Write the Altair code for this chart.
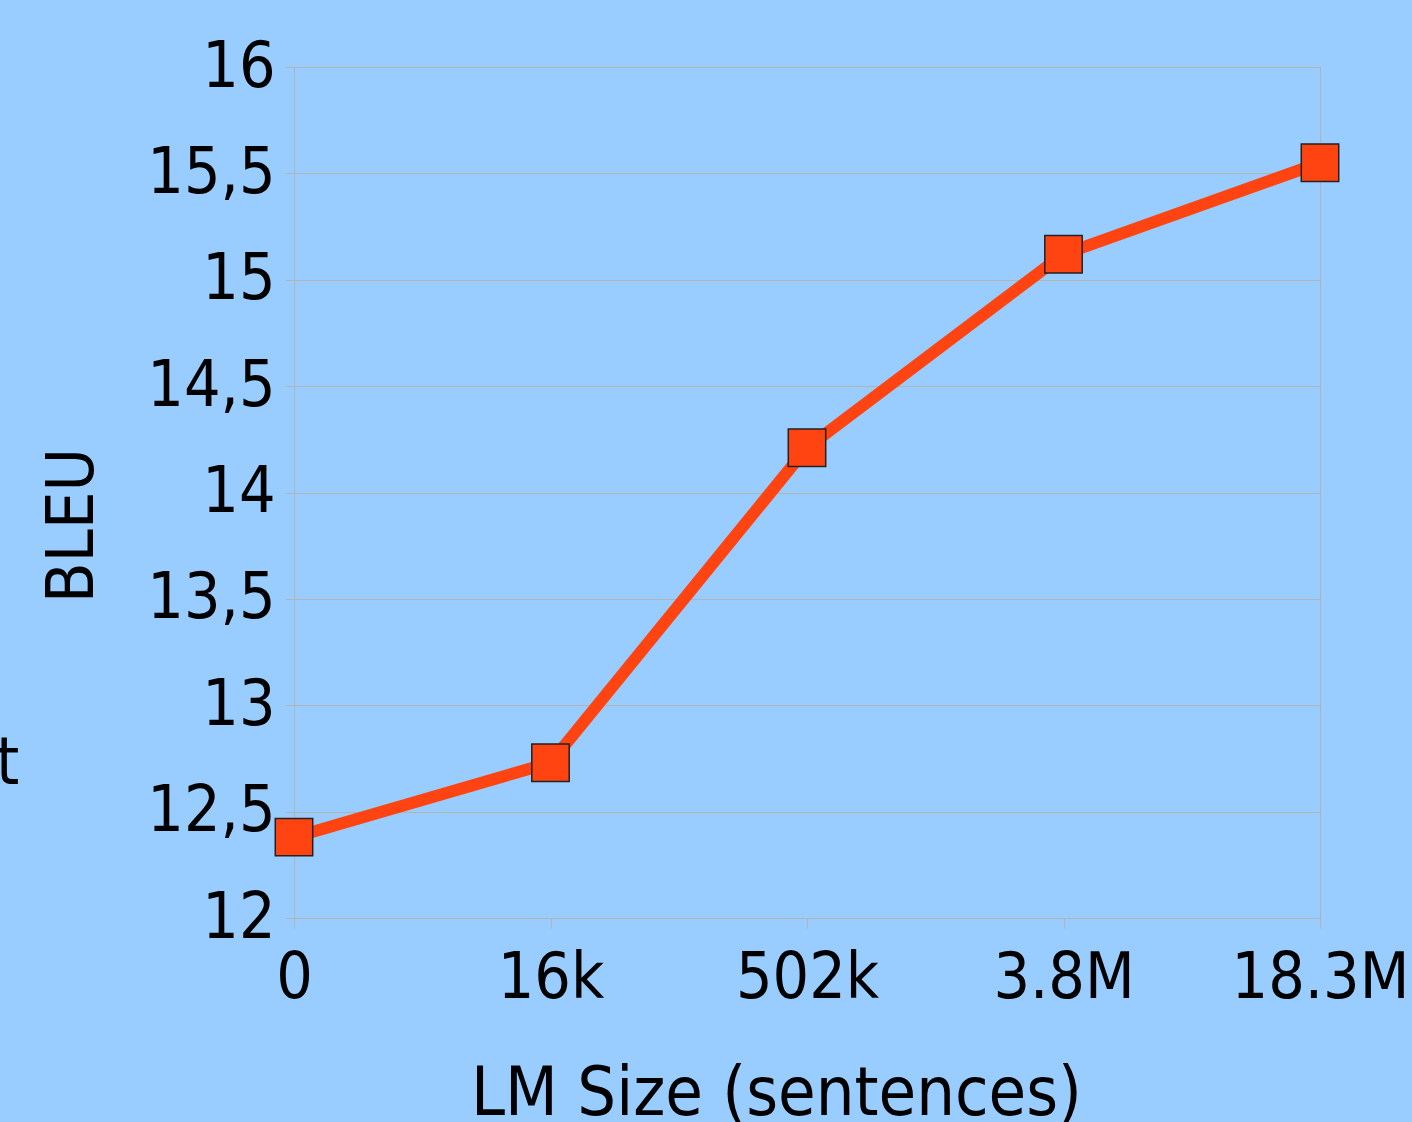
import altair as alt
import pandas as pd

sizes = ["0", "16k", "502k", "3.8M", "18.3M"]
bleu = [12.38, 12.73, 14.21, 15.12, 15.55]
y_ticks = [12, 12.5, 13, 13.5, 14, 14.5, 15, 15.5, 16]

df = pd.DataFrame({"size": sizes, "bleu": bleu})
FONT = "DejaVu Sans Condensed, DejaVu Sans"

x = alt.X("size:O", sort=sizes, scale=alt.Scale(type="point", padding=0),
          axis=alt.Axis(title="LM Size (sentences)", labelAngle=0, labelFontSize=64,
                        labelFont=FONT, labelColor="black", labelPadding=18,
                        tickColor="#b3b3b3", tickSize=10, domainColor="#b3b3b3",
                        titleFont=FONT, titleFontSize=68, titleFontWeight="normal",
                        titleColor="black", titleX=482, titleY=196,
                        titleBaseline="alphabetic", titleAlign="center", grid=False))
y = alt.Y("bleu:Q", scale=alt.Scale(domain=[12, 16], nice=False, zero=False),
          axis=alt.Axis(title="BLEU", values=y_ticks,
                        labelExpr="replace(toString(datum.value), '.', ',')",
                        labelFontSize=64, labelFont=FONT, labelColor="black",
                        labelPadding=10, tickColor="#b3b3b3", tickSize=9,
                        domainColor="#b3b3b3", gridColor="#b3b3b3", gridWidth=1,
                        titleFont=FONT, titleFontSize=66, titleFontWeight="normal",
                        titleColor="black", titleX=-222, titleY=458, titleAngle=270,
                        titleBaseline="middle", titleAlign="center"))

line = alt.Chart(df).mark_line(color="#FF4411", strokeWidth=12).encode(x=x, y=y)
pts = alt.Chart(df).mark_point(shape="square", filled=True, size=1400, color="#FF4411",
                               stroke="#222222", strokeWidth=1.5, opacity=1).encode(x=x, y=y)
stray = alt.Chart(pd.DataFrame({"t": ["t"]})).mark_text(
    font=FONT, fontSize=66, color="black", align="left", baseline="alphabetic"
).encode(text="t:N", x=alt.value(-298), y=alt.value(717))

chart = alt.layer(line, pts, stray).properties(
    width=1026, height=851, background="#99CCFF",
    autosize=alt.AutoSizeParams(type="none"),
    padding={"left": 294, "top": 67, "right": 92, "bottom": 204},
).configure_view(stroke="#b3b3b3", strokeWidth=1)

chart.save("out.html", embed_options={"renderer": "svg", "actions": False})
